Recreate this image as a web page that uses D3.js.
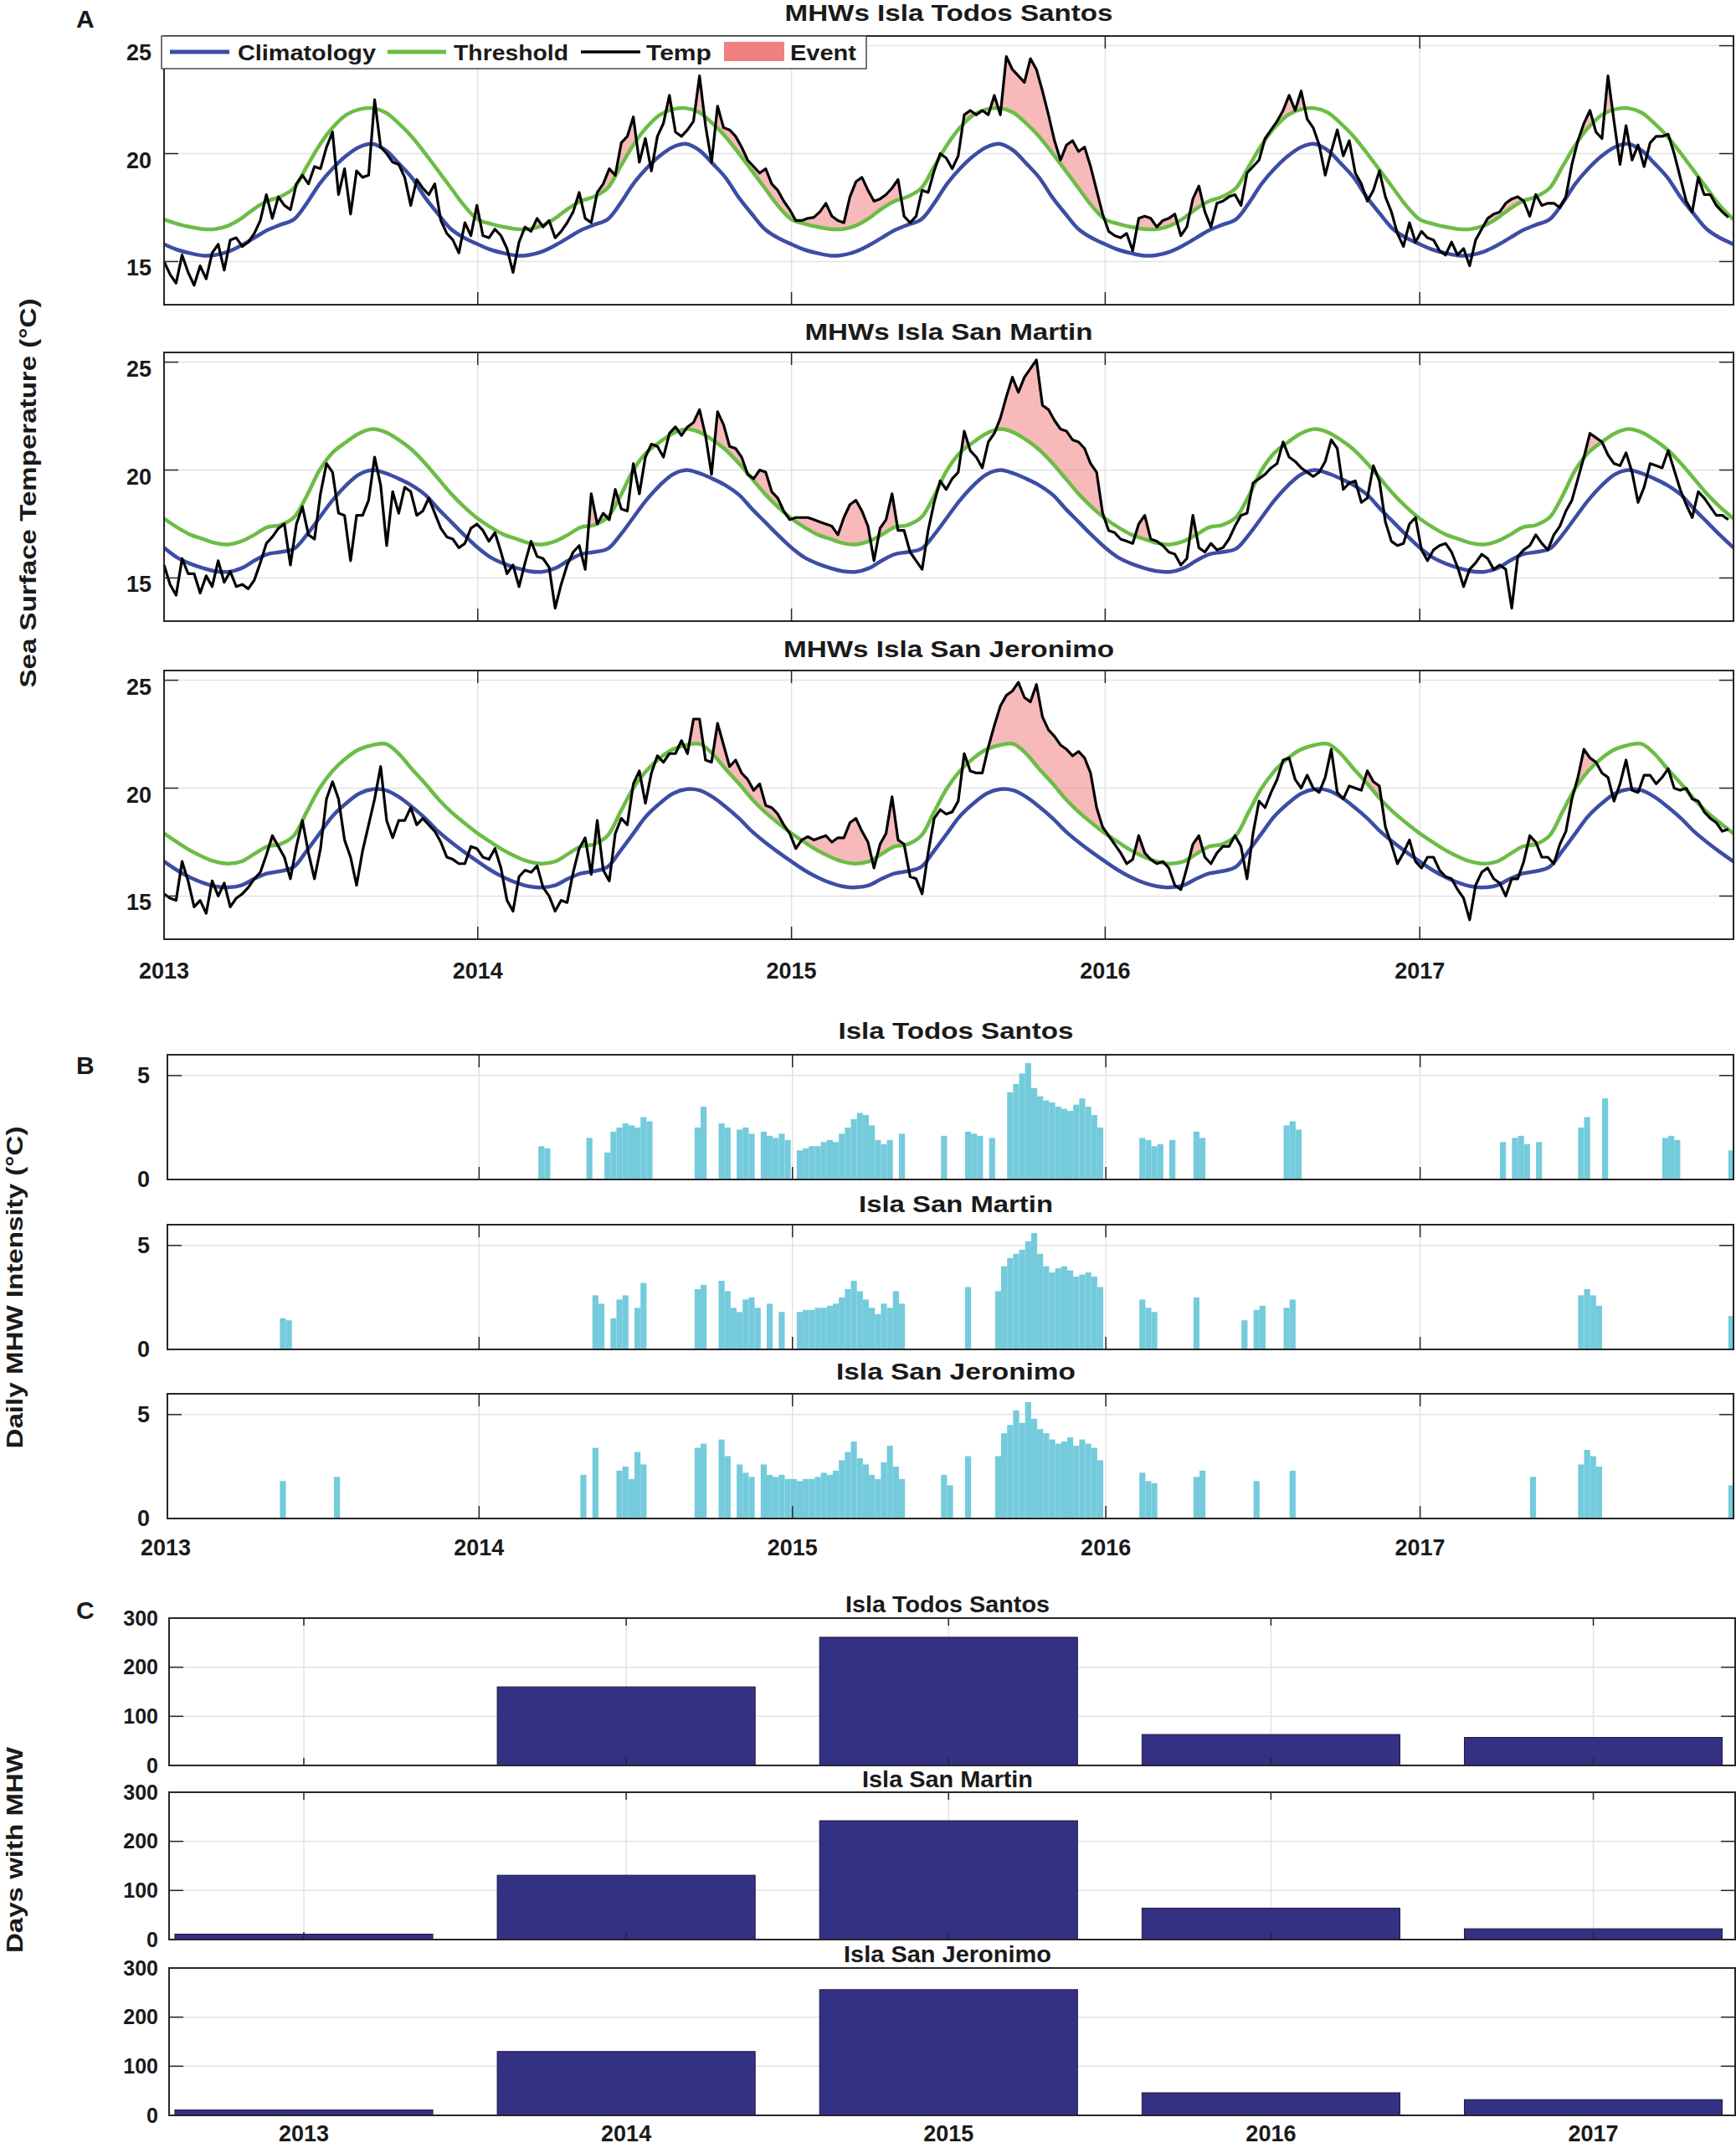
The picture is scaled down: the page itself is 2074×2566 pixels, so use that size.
<!DOCTYPE html>
<html>
<head>
<meta charset="utf-8">
<script src="https://cdn.jsdelivr.net/npm/d3@7"></script>
<style>
  body { margin: 0; background: #fff; }
  text { font-family: "Liberation Sans", Arial, sans-serif; font-weight: bold; fill: #1a1a1a; }
</style>
</head>
<body>
<div id="chart"></div>
<script>
// ---------------- data ----------------
var stations = ["Isla Todos Santos", "Isla San Martin", "Isla San Jeronimo"];
var weekStart = "2013-01-01";   // temp series are weekly from this date

var tempTodos = [
  15.0,14.4,14.0,15.3,14.5,13.9,14.8,14.2,15.4,15.8,14.6,16.0,16.1,15.7,15.9,16.3,16.9,18.1,17.0,18.0,17.6,17.4,18.6,19.0,18.6,19.4,
  19.3,20.3,21.0,18.1,19.3,17.2,19.2,18.9,19.0,22.5,20.3,20.0,19.6,19.5,18.9,17.6,18.8,18.4,18.1,18.6,16.9,16.3,16.0,15.4,16.8,16.2,
  17.6,16.2,16.1,16.5,16.2,15.6,14.5,15.9,16.6,16.4,17.0,16.6,16.9,16.1,16.4,16.8,17.3,18.2,17.0,16.8,18.2,18.6,19.3,19.0,20.5,20.8,
  21.7,19.6,20.7,19.2,20.8,21.4,22.7,21.0,20.8,21.1,21.5,23.6,21.3,19.6,22.2,21.2,21.1,20.8,20.3,19.7,19.4,19.1,19.3,18.6,18.3,17.8,
  17.4,16.9,16.9,17.0,17.05,17.3,17.7,17.1,16.9,16.8,18.0,18.7,18.9,18.3,17.8,17.9,18.1,18.4,18.8,17.1,16.8,17.1,18.3,18.2,19.2,20.0,
  19.8,19.3,19.9,21.8,22.0,21.8,22.0,21.8,22.7,21.8,24.5,23.9,23.6,23.3,24.4,23.9,22.9,21.8,20.6,19.7,20.4,20.6,20.1,20.3,19.4,18.3,
  17.2,16.4,16.2,16.1,16.3,15.5,17.0,17.1,17.0,16.6,16.9,17.0,17.2,16.2,16.6,17.9,18.5,17.3,16.6,17.7,17.8,18.0,18.1,17.6,19.1,19.4,
  19.7,20.7,21.1,21.5,22.0,22.7,22.0,22.9,21.6,21.2,20.4,19.0,20.1,21.1,19.9,20.6,19.1,18.6,17.8,18.3,19.2,18.0,17.3,16.3,15.7,16.8,
  15.9,16.4,16.1,16.0,15.5,15.3,15.9,15.3,15.6,14.8,16.0,16.5,17.0,17.2,17.3,17.7,17.9,18.0,17.8,17.1,18.1,17.6,17.7,17.7,17.5,18.0,
  19.5,20.6,21.4,22.0,21.0,20.7,23.6,21.5,19.5,21.3,19.7,20.4,19.4,20.5,20.8,20.8,20.9,20.0,18.9,17.8,17.3,18.9,18.1,18.1,17.6,17.3,17.05
];
var tempMartin = [
  15.6,14.7,14.2,15.9,15.2,15.2,14.3,15.1,14.6,15.8,14.8,15.3,14.6,14.7,14.5,14.9,15.7,16.6,16.9,17.3,17.5,15.6,17.5,18.3,17.0,16.8,
  18.9,20.3,19.9,18.0,17.9,15.8,17.9,17.9,18.6,20.6,19.3,16.5,19.0,18.0,19.2,19.0,17.9,18.1,18.7,18.0,17.3,16.9,16.8,16.4,16.6,17.3,
  17.5,17.2,16.7,17.1,16.2,15.2,15.6,14.6,15.7,16.7,16.0,15.9,15.5,13.6,14.7,15.6,16.2,16.5,15.4,18.9,17.5,18.0,17.7,19.1,18.2,18.1,
  20.3,18.9,20.6,21.2,21.1,20.6,21.7,22.0,21.6,22.0,22.2,22.8,21.6,19.8,22.7,22.1,21.1,21.0,20.6,19.8,19.6,20.0,19.9,19.0,18.7,18.1,
  17.7,17.8,17.8,17.8,17.7,17.6,17.5,17.4,17.0,17.8,18.4,18.6,18.1,17.4,15.8,17.3,17.7,18.9,17.2,17.2,16.2,15.8,15.4,17.2,18.5,19.5,
  19.1,19.6,19.9,21.8,20.9,20.6,20.1,21.3,21.7,22.4,23.4,24.3,23.6,24.3,24.7,25.1,23.0,22.8,22.3,21.9,21.8,21.4,21.3,21.0,20.3,19.9,
  18.0,17.2,17.1,16.8,16.7,16.6,17.5,17.9,16.8,16.7,16.5,16.2,16.1,15.6,15.9,17.9,16.4,16.2,16.6,16.3,16.4,16.8,17.4,17.9,18.0,19.4,
  19.6,19.8,20.1,20.3,21.3,20.6,20.4,20.1,19.9,19.7,19.9,20.4,21.4,21.0,19.1,19.4,19.5,18.5,18.7,20.2,19.5,17.6,16.7,16.5,16.6,17.5,
  17.8,16.3,15.8,16.3,16.5,16.6,16.2,15.5,14.6,15.4,15.7,16.1,15.9,15.4,15.6,15.4,13.6,16.0,16.3,16.5,17.0,16.6,16.3,17.0,17.4,18.1,
  18.6,19.6,20.6,21.7,21.5,21.3,20.7,20.3,20.2,20.8,19.9,18.5,19.2,20.3,20.2,20.1,20.9,20.0,19.1,18.4,17.8,19.0,18.7,18.3,17.9,17.9,17.7
];
var tempJeronimo = [
  15.1,14.9,14.8,16.6,15.7,14.5,14.8,14.2,15.7,15.0,15.6,14.5,14.9,15.1,15.4,15.8,16.1,16.9,17.8,17.3,16.8,15.8,17.3,18.5,17.0,15.8,
  17.2,19.5,20.3,19.5,17.6,16.8,15.5,17.1,18.3,19.5,21.0,18.5,17.7,18.5,18.5,19.1,18.3,18.6,18.3,18.0,17.5,16.8,16.7,16.5,16.5,17.3,
  17.2,16.8,16.7,17.2,16.3,14.8,14.3,15.9,16.2,16.1,16.4,15.4,15.0,14.3,14.8,14.7,16.1,17.2,17.7,16.0,18.5,16.2,15.7,17.9,18.6,18.3,
  20.2,20.8,19.3,20.7,21.5,21.2,21.6,21.6,22.2,21.6,23.2,23.2,21.3,21.2,23.0,22.0,21.0,21.3,20.7,20.4,19.9,20.2,19.2,19.1,18.8,18.3,
  17.9,17.2,17.6,17.75,17.6,17.7,17.8,17.5,17.7,17.7,18.4,18.6,18.0,17.5,16.3,17.4,17.9,19.6,17.6,17.4,15.9,15.8,15.1,17.0,18.6,19.0,
  18.8,18.9,19.4,21.6,20.8,20.7,20.7,21.9,22.9,23.8,24.3,24.5,24.9,24.2,24.0,24.8,23.3,22.7,22.4,22.0,21.8,21.5,21.7,21.4,20.7,19.1,
  18.2,17.8,17.4,17.0,16.5,16.7,17.8,17.0,16.7,16.5,16.6,16.3,15.5,15.3,16.3,17.4,17.8,16.8,16.5,17.0,17.3,17.3,17.8,17.3,15.8,17.9,
  19.4,19.1,19.8,20.4,21.3,21.4,20.4,20.0,20.6,20.0,19.8,20.5,21.8,19.8,19.5,20.1,20.0,19.9,20.8,20.3,20.1,18.2,17.4,16.5,17.0,17.6,
  16.6,16.3,16.8,16.8,16.2,15.9,15.8,15.3,14.9,13.9,15.5,16.1,16.3,15.8,15.6,15.0,15.8,15.8,16.6,17.8,17.5,16.8,16.8,16.5,17.4,18.0,
  19.5,20.5,21.8,21.4,21.2,20.7,20.5,19.4,20.2,21.3,19.9,19.8,20.6,20.6,20.2,20.5,20.9,20.0,19.9,20.0,19.5,19.4,18.9,18.6,18.4,18.0,18.1
];

// seasonal climatology and 90th percentile threshold, on the 1st and 16th of each month
var climTodos    = [15.8,15.55,15.38,15.27,15.3,15.45,15.75,16.1,16.45,16.7,16.95,17.7,18.6,19.3,19.9,20.3,20.45,20.15,19.55,18.9,17.95,17.2,16.5,16.1];
var threshTodos  = [16.95,16.75,16.6,16.5,16.5,16.65,17.0,17.45,17.8,18.0,18.4,19.4,20.4,21.2,21.8,22.05,22.1,21.9,21.4,20.8,20.0,19.2,18.4,17.6];
var climMartin   = [16.4,15.95,15.65,15.45,15.32,15.28,15.45,15.8,16.1,16.2,16.35,17.0,17.8,18.6,19.3,19.8,20.0,19.85,19.6,19.3,18.85,18.2,17.6,17.0];
var threshMartin = [17.75,17.35,17.0,16.8,16.62,16.55,16.7,17.0,17.35,17.45,17.8,18.8,20.0,20.8,21.3,21.7,21.9,21.75,21.4,20.95,20.3,19.6,18.9,18.3];
var climJeronimo   = [16.6,16.2,15.85,15.6,15.45,15.4,15.5,15.8,16.05,16.15,16.35,17.1,17.9,18.7,19.3,19.75,19.95,19.9,19.6,19.15,18.6,18.0,17.5,17.05];
var threshJeronimo = [17.9,17.5,17.1,16.8,16.6,16.5,16.6,16.95,17.3,17.4,17.8,18.9,20.0,20.8,21.4,21.8,22.0,22.05,21.6,20.9,20.2,19.5,18.9,18.4];

// daily MHW intensity, as [week index from weekStart, intensity]
var intTodos = [[62,1.6],[63,1.5],[70,2.0],[73,1.3],[74,2.3],[75,2.5],[76,2.7],[77,2.6],[78,2.5],[79,3.0],[80,2.8],[88,2.5],[89,3.5],
  [92,2.7],[93,2.5],[95,2.4],[96,2.5],[97,2.2],[99,2.3],[100,2.1],[101,2.0],[102,2.2],[103,1.9],[105,1.4],[106,1.5],[107,1.6],[108,1.6],
  [109,1.8],[110,1.9],[111,1.8],[112,2.2],[113,2.5],[114,2.9],[115,3.2],[116,3.1],[117,2.6],[118,1.9],[119,1.7],[120,1.9],[122,2.2],
  [129,2.1],[133,2.3],[134,2.2],[135,2.1],[137,2.0],[140,4.2],[141,4.6],[142,5.1],[143,5.6],[144,4.4],[145,4.0],[146,3.8],[147,3.7],
  [148,3.5],[149,3.4],[150,3.3],[151,3.6],[152,3.9],[153,3.5],[154,3.1],[155,2.5],[162,2.0],[163,1.9],[164,1.6],[165,1.7],[167,1.9],
  [171,2.3],[172,2.0],[186,2.6],[187,2.8],[188,2.4],[222,1.8],[224,2.0],[225,2.1],[226,1.7],[228,1.8],[235,2.5],[236,3.0],[239,3.9],
  [249,2.0],[250,2.1],[251,1.9],[260,1.4]];
var intMartin = [[19,1.5],[20,1.4],[71,2.6],[72,2.2],[74,1.5],[75,2.4],[76,2.6],[78,2.0],[79,3.2],[88,2.9],[89,3.1],[92,3.3],[93,2.8],
  [94,2.0],[95,1.8],[96,2.4],[97,2.5],[98,2.0],[100,2.2],[102,1.8],[105,1.8],[106,1.9],[107,1.9],[108,2.0],[109,2.0],[110,2.1],[111,2.2],
  [112,2.5],[113,2.9],[114,3.3],[115,2.8],[116,2.4],[117,2.0],[118,1.7],[119,2.2],[120,2.0],[121,2.8],[122,2.2],[133,3.0],[138,2.8],
  [139,4.0],[140,4.4],[141,4.6],[142,4.8],[143,5.2],[144,5.6],[145,4.6],[146,4.0],[147,3.7],[148,3.9],[149,4.0],[150,3.8],[151,3.5],
  [152,3.6],[153,3.7],[154,3.5],[155,3.0],[162,2.4],[163,2.0],[164,1.8],[171,2.5],[179,1.4],[181,1.9],[182,2.1],[186,2.0],[187,2.4],
  [235,2.6],[236,2.9],[237,2.6],[238,2.1],[260,1.6]];
var intJeronimo = [[19,1.8],[28,2.0],[69,2.1],[71,3.4],[75,2.3],[76,2.5],[77,1.9],[78,3.2],[79,2.6],[88,3.4],[89,3.6],[92,3.8],[93,3.0],
  [95,2.6],[96,2.2],[97,2.0],[99,2.6],[100,2.1],[101,2.0],[102,2.1],[103,1.9],[104,1.9],[105,1.8],[106,1.9],[107,1.9],[108,2.0],[109,2.2],
  [110,2.1],[111,2.3],[112,2.8],[113,3.2],[114,3.7],[115,2.9],[116,2.6],[117,2.1],[118,1.9],[119,2.7],[120,3.5],[121,2.5],[122,1.9],
  [129,2.1],[130,1.6],[133,3.0],[138,3.0],[139,4.1],[140,4.5],[141,5.2],[142,4.6],[143,5.6],[144,4.8],[145,4.3],[146,4.1],[147,3.8],
  [148,3.6],[149,3.7],[150,3.9],[151,3.5],[152,3.8],[153,3.6],[154,3.4],[155,2.8],[162,2.2],[163,1.8],[164,1.7],[171,2.0],[172,2.3],
  [181,1.8],[187,2.3],[227,2.0],[235,2.6],[236,3.3],[237,3.0],[238,2.5],[260,1.6]];

// days with MHW per year
var years = [2013, 2014, 2015, 2016, 2017];
var daysTodos    = [0, 160, 261, 63, 57];
var daysMartin   = [11, 131, 242, 64, 22];
var daysJeronimo = [11, 130, 256, 46, 32];

var tempTicks = [15, 20, 25];
var intTicks = [0, 5];
var daysTicks = [0, 100, 200, 300];

// ---------------- drawing ----------------
var W = 2074, H = 2566;
var axisColor = "#262626", gridColor = "#e2e2e2";
var blue = "#3d4da4", green = "#6bbd45", pink = "#f08080", cyan = "#74cbdc", navy = "#343084";

var svg = d3.select("#chart").append("svg").attr("width", W).attr("height", H);

var t0 = d3.timeParse("%Y-%m-%d")(weekStart);
function weekDate(i) { return d3.timeDay.offset(t0, 7 * i); }
var yearDates = years.map(function(y) { return new Date(y, 0, 1); });

function seasonal(arr) {
  var pts = [];
  years.forEach(function(y) {
    arr.forEach(function(v, k) {
      pts.push({date: new Date(y, Math.floor(k / 2), k % 2 ? 16 : 1), v: v});
    });
  });
  pts.push({date: new Date(2018, 0, 1), v: arr[0]});
  return pts;
}

function txt(x, y, s, size, anchor, len) {
  var t = svg.append("text").attr("x", x).attr("y", y)
    .attr("font-size", size).attr("text-anchor", anchor || "start").text(s);
  if (len) t.attr("textLength", len).attr("lengthAdjust", "spacingAndGlyphs");
  return t;
}

function vlabel(cx, cy, s, len) {
  svg.append("text")
    .attr("transform", "translate(" + cx + "," + cy + ") rotate(-90)")
    .attr("text-anchor", "middle").attr("dy", "0.35em")
    .attr("font-size", 28).attr("textLength", len).attr("lengthAdjust", "spacingAndGlyphs")
    .text(s);
}

// common frame: grid, ticks on all four sides, box
function frame(g, x, y, xTicks, yTicks, opt) {
  var x0 = x.range()[0], x1 = x.range()[1], yb = y.range()[0], yt = y.range()[1];
  g.selectAll(".hg").data(yTicks).enter().append("line")
    .attr("x1", x0).attr("x2", x1).attr("y1", y).attr("y2", y)
    .attr("stroke", gridColor).attr("stroke-width", 1.5);
  if (opt.vgrid) {
    g.selectAll(".vg").data(xTicks).enter().append("line")
      .attr("x1", x).attr("x2", x).attr("y1", yt).attr("y2", yb)
      .attr("stroke", gridColor).attr("stroke-width", 1.5);
  }
  return function overlay() {
    var o = g.append("g").attr("stroke", axisColor).attr("stroke-width", 1.5);
    yTicks.forEach(function(t) {
      o.append("line").attr("x1", x0).attr("x2", x0 + 17).attr("y1", y(t)).attr("y2", y(t));
      o.append("line").attr("x1", x1 - 17).attr("x2", x1).attr("y1", y(t)).attr("y2", y(t));
    });
    if (opt.vgrid) {
      xTicks.forEach(function(t) {
        o.append("line").attr("x1", x(t)).attr("x2", x(t)).attr("y1", yb).attr("y2", yb - opt.xt);
        o.append("line").attr("x1", x(t)).attr("x2", x(t)).attr("y1", yt).attr("y2", yt + opt.xt);
      });
    }
    g.append("rect").attr("x", x0).attr("y", yt).attr("width", x1 - x0).attr("height", yb - yt)
      .attr("fill", "none").attr("stroke", axisColor).attr("stroke-width", 2);
  };
}

// ---- panel A: SST time series ----
var xA = d3.scaleTime().domain([new Date(2013, 0, 1), new Date(2018, 0, 1)]).range([196, 2071]);
var aTops = [43, 421, 801], aH = 321;
var aTitleY = [25, 406, 785], aTitleW = [392, 344, 395];
var tempSets = [tempTodos, tempMartin, tempJeronimo];
var climSets = [climTodos, climMartin, climJeronimo];
var threshSets = [threshTodos, threshMartin, threshJeronimo];

tempSets.forEach(function(temp, i) {
  var top = aTops[i];
  var yA = d3.scaleLinear().domain([13, 25.45]).range([top + aH, top]);
  var g = svg.append("g");
  var overlay = frame(g, xA, yA, yearDates.slice(1), tempTicks, {vgrid: true, xt: 15});

  var climPts = seasonal(climSets[i]), thrPts = seasonal(threshSets[i]);
  var smooth = d3.curveCatmullRom;

  // event fill: area under temp, clipped to the region above the threshold
  g.append("clipPath").attr("id", "above" + i).append("path")
    .attr("d", d3.area().curve(smooth).x(function(d) { return xA(d.date); })
      .y0(top).y1(function(d) { return yA(d.v); })(thrPts));
  g.append("path").attr("clip-path", "url(#above" + i + ")")
    .attr("d", d3.area().x(function(d, j) { return xA(weekDate(j)); })
      .y0(top + aH).y1(function(d) { return yA(d); })(temp))
    .attr("fill", pink).attr("fill-opacity", 0.55);

  var seasonLine = d3.line().curve(smooth).x(function(d) { return xA(d.date); }).y(function(d) { return yA(d.v); });
  g.append("path").attr("d", seasonLine(climPts)).attr("fill", "none").attr("stroke", blue).attr("stroke-width", 4.5);
  g.append("path").attr("d", seasonLine(thrPts)).attr("fill", "none").attr("stroke", green).attr("stroke-width", 4.5);
  g.append("path")
    .attr("d", d3.line().x(function(d, j) { return xA(weekDate(j)); }).y(function(d) { return yA(d); })(temp))
    .attr("fill", "none").attr("stroke", "#000").attr("stroke-width", 3.2).attr("stroke-linejoin", "round");

  overlay();

  tempTicks.forEach(function(t) { txt(181, yA(t) + 17, t, 27, "end"); });
  txt((196 + 2071) / 2, aTitleY[i], "MHWs " + stations[i], 28, "middle", aTitleW[i]);
  if (i === 2) {
    yearDates.forEach(function(d) { txt(xA(d), 1169, d.getFullYear(), 27, "middle"); });
  }
});

// legend
var lg = svg.append("g");
lg.append("rect").attr("x", 193).attr("y", 43).attr("width", 842).attr("height", 39)
  .attr("fill", "#fff").attr("stroke", "#4a4a4a").attr("stroke-width", 1.5);
[[203, 274, blue, 5], [463, 533, green, 5], [694, 765, "#000", 3.5]].forEach(function(l) {
  lg.append("line").attr("x1", l[0]).attr("x2", l[1]).attr("y1", 62).attr("y2", 62)
    .attr("stroke", l[2]).attr("stroke-width", l[3]);
});
lg.append("rect").attr("x", 865).attr("y", 50).attr("width", 72).attr("height", 23).attr("fill", pink);
txt(284, 72, "Climatology", 26, "start", 165);
txt(542, 72, "Threshold", 26, "start", 137);
txt(772, 72, "Temp", 26, "start", 78);
txt(944, 72, "Event", 26, "start", 79);

// ---- panel B: daily intensity ----
var xB = d3.scaleTime().domain([new Date(2013, 0, 3), new Date(2018, 0, 1)]).range([200, 2071]);
var bTops = [1260, 1463, 1665], bH = 149;
var bTitleY = [1241, 1448, 1648], bTitleW = [281, 232, 286];
[intTodos, intMartin, intJeronimo].forEach(function(ints, i) {
  var top = bTops[i];
  var yB = d3.scaleLinear().domain([0, 6]).range([top + bH, top]);
  var g = svg.append("g");
  var overlay = frame(g, xB, yB, yearDates.slice(1), intTicks, {vgrid: true, xt: 15});
  g.selectAll(".bar").data(ints).enter().append("rect")
    .attr("x", function(d) { return xB(weekDate(d[0])); })
    .attr("width", function(d) { return Math.min(xB(weekDate(d[0] + 1)), 2071) - xB(weekDate(d[0])); })
    .attr("y", function(d) { return yB(d[1]); })
    .attr("height", function(d) { return yB(0) - yB(d[1]); })
    .attr("fill", cyan);
  overlay();
  intTicks.forEach(function(t) { txt(179, yB(t), t, 27, "end").attr("dy", "0.35em"); });
  txt(1142, bTitleY[i], stations[i], 28, "middle", bTitleW[i]);
  if (i === 2) {
    yearDates.forEach(function(d) { txt(xB(d), 1858, d.getFullYear(), 27, "middle"); });
  }
});

// ---- panel C: days with MHW ----
var xC = d3.scaleLinear().domain([2012.582, 2017.44]).range([202, 2073]);
var cTops = [1933, 2141, 2351], cH = 176;
var cTitleY = [1926, 2135, 2344], cTitleW = [244, 204, 248];
[daysTodos, daysMartin, daysJeronimo].forEach(function(days, i) {
  var top = cTops[i];
  var yC = d3.scaleLinear().domain([0, 300]).range([top + cH, top]);
  var g = svg.append("g");
  var overlay = frame(g, xC, yC, years, daysTicks, {vgrid: i < 2, xt: 9});
  g.selectAll(".bar").data(days).enter().append("rect")
    .attr("x", function(d, j) { return xC(years[j] - 0.4); })
    .attr("width", xC(0.8) - xC(0))
    .attr("y", function(d) { return yC(d); })
    .attr("height", function(d) { return yC(0) - yC(d); })
    .attr("fill", navy).attr("stroke", "#1c1c3c").attr("stroke-width", 1);
  overlay();
  daysTicks.forEach(function(t) { txt(189, yC(t), t, 25, "end").attr("dy", "0.35em"); });
  txt(1132, cTitleY[i], stations[i], 28, "middle", cTitleW[i]);
  if (i === 2) {
    years.forEach(function(y) { txt(xC(y), 2558, y, 27, "middle"); });
  }
});

// panel letters and axis labels
txt(91, 33, "A", 30);
txt(91, 1283, "B", 30);
txt(91, 1934, "C", 30);
vlabel(33, 589, "Sea Surface Temperature (°C)", 465);
vlabel(17, 1538, "Daily MHW Intensity (°C)", 385);
vlabel(17, 2210, "Days with MHW", 246);
</script>
</body>
</html>
